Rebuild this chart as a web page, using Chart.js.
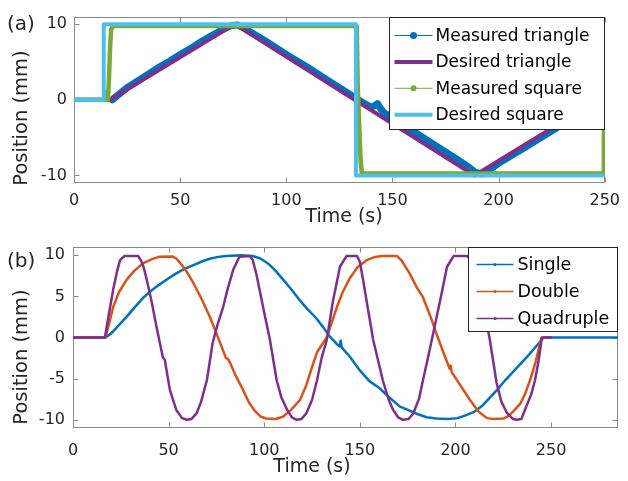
<!DOCTYPE html>
<html>
<head>
<meta charset="utf-8">
<script src="https://cdn.jsdelivr.net/npm/chart.js@4.4.1/dist/chart.umd.min.js"></script>
<style>
  html, body { margin: 0; padding: 0; background: #fff; }
  #wrap { position: relative; width: 628px; height: 481px; }
  #chartA { position: absolute; left: 0; top: 0; }
  #chartB { position: absolute; left: 0; top: 226px; }
</style>
</head>
<body>
<div id="wrap">
  <canvas id="chartA" width="628" height="226"></canvas>
  <canvas id="chartB" width="628" height="255"></canvas>
</div>
<script>
// ---------- panel (a): triangle and square tracking ----------
const xTicksA = [0, 50, 100, 150, 200, 250];
const yTicksA = [-10, 0, 10];

const triMeasT = [18, 25, 30, 35, 40, 45, 50, 55, 60, 65, 70, 74, 77, 80, 90, 100, 110, 120, 130, 135, 140, 141.5, 143, 144.5, 146, 150, 160, 170, 180, 186, 189, 192, 196, 200, 210, 220, 228, 235, 242, 247, 250];
const triMeasY = [0, 1.6, 2.5, 3.4, 4.3, 5.1, 6.0, 6.8, 7.7, 8.5, 9.3, 9.8, 9.9, 9.5, 7.8, 6.0, 4.3, 2.5, 0.7, -0.2, -1.0, -0.8, -0.5, -1.2, -1.7, -2.4, -4.2, -6.0, -7.8, -8.9, -9.6, -9.8, -9.2, -8.4, -6.7, -5.0, -3.6, -2.4, -1.2, -0.3, 0];

const triDesT = [0, 17, 75.7, 188.7, 247, 250];
const triDesY = [0, 0, 10, -10, 0, 0];

const sqMeasT = [0, 14, 14.6, 15.2, 16, 16.5, 17, 17.5, 18.5, 133.2, 133.6, 134.3, 135, 135.6, 249.3, 249.6];
const sqMeasY = [0, 0, 1.0, 0, 0, 3, 7, 9.3, 9.75, 9.75, 2.2, -3, -8, -9.75, -9.75, 0];

const sqDesT = [0, 14, 14, 132.8, 132.8, 250];
const sqDesY = [0, 0, 10, 10, -10, -10];

const legendA = ['Measured triangle', 'Desired triangle', 'Measured square', 'Desired square'];

// ---------- panel (b): single / double / quadruple ----------
const xTicksB = [0, 50, 100, 150, 200, 250];
const yTicksB = [-10, -5, 0, 5, 10];

const singleT = [0, 17, 20, 24, 28, 32, 37, 41, 45, 50, 54, 58, 63, 68, 72, 76, 80, 88, 94, 98, 102, 106, 110, 114, 118, 122, 127, 131, 134, 138, 139.5, 140, 140.5, 145, 150, 155, 160, 165, 171, 176, 180, 185, 190, 196, 201, 205, 210, 214, 218, 222, 226, 230, 234, 238, 241, 244, 246, 285];
const singleY = [0, 0, 0.5, 1.5, 2.5, 3.6, 4.9, 5.7, 6.4, 7.2, 7.8, 8.3, 8.8, 9.3, 9.6, 9.8, 9.9, 10, 9.9, 9.6, 9.0, 8.1, 7.0, 5.9, 4.7, 3.6, 2.4, 1.2, 0.2, -0.8, -1.1, -0.4, -1.2, -2.4, -4.0, -5.3, -6.1, -7.2, -8.4, -8.9, -9.3, -9.7, -9.85, -9.9, -9.8, -9.5, -9.0, -8.3, -7.3, -6.3, -5.2, -4.2, -3.2, -2.2, -1.4, -0.6, 0, 0];

const doubleT = [0, 17, 19, 21, 24, 28, 32, 36.6, 41, 45, 52, 54, 57, 60, 63, 67, 71.6, 75, 80, 81, 82, 85, 89, 92, 95, 98, 101, 106, 110, 114, 118.7, 122, 125, 127.6, 132.7, 135, 138, 141, 145, 149, 153.6, 158, 162, 169.5, 172, 176, 180, 183, 187, 190, 194, 197, 197.5, 198, 202, 207.6, 212, 216.5, 220, 225, 228, 231, 234, 236.5, 239, 242, 245, 250];
const doubleY = [0, 0, 1.8, 3.7, 5.5, 7.0, 8.1, 9.0, 9.5, 9.8, 9.85, 9.6, 8.8, 7.8, 6.6, 4.8, 2.5, 0.5, -2.5, -2.6, -3.0, -4.6, -6.4, -7.9, -8.9, -9.6, -9.85, -9.9, -9.6, -8.8, -7.6, -5.8, -3.6, -1.8, 0, 1.6, 3.7, 5.5, 7.3, 8.6, 9.4, 9.8, 9.9, 9.9, 9.3, 7.8, 6.0, 4.9, 2.5, 0.5, -2.0, -3.8, -3.4, -4.2, -5.6, -7.6, -9.0, -9.8, -9.9, -9.85, -9.5, -8.8, -8.0, -6.8, -5.2, -2.9, 0, 0];

const quadT = [0, 16.7, 18.5, 21, 23, 24.6, 27, 34, 35.5, 37, 38.6, 41, 44, 47, 48, 48.5, 50.7, 54, 57, 59.6, 62, 64.7, 67, 70, 73, 75.5, 78.5, 81, 83.7, 87, 92.6, 94, 96, 99.4, 103, 106.5, 109, 112, 114.5, 117, 119.5, 122, 125, 127.6, 130, 132.7, 136, 139.6, 143, 148.5, 150, 151.7, 154, 157, 162, 165, 167.4, 170, 172.6, 175.5, 178, 181, 183, 185.5, 187.6, 192, 195.6, 199, 206, 208.5, 211, 214.5, 218, 221.5, 224, 227, 230, 232, 234.5, 237, 239.5, 241.6, 243.5, 245, 245.5, 250];
const quadY = [0, 0, 2.5, 5.8, 8.0, 9.4, 9.9, 9.9, 9.4, 8.5, 7.0, 4.5, 0.9, -2.4, -2.7, -3.4, -6.4, -8.8, -9.8, -10, -9.9, -9.2, -7.8, -5.2, -0.7, 1.5, 3.7, 6.0, 8.2, 9.8, 9.9, 9.4, 7.6, 3.7, -0.3, -5.2, -7.3, -8.8, -9.7, -10, -9.9, -9.2, -7.6, -5.2, -2.5, -0.3, 4.5, 8.6, 9.9, 9.9, 9.2, 7.0, 3.8, -0.3, -5.2, -7.5, -8.8, -9.7, -10, -9.9, -9.2, -7.4, -5.2, -2.6, -0.3, 4.5, 8.6, 9.9, 9.9, 9.4, 7.8, 4.0, -0.3, -5.5, -7.8, -9.2, -9.9, -10, -9.9, -8.4, -7.0, -5.2, -2.8, -0.3, 0, 0];

const legendB = ['Single', 'Double', 'Quadruple'];

// colours (MATLAB default order)
const C_BLUE = '#0072BD';
const C_ORANGE = '#D95319';
const C_PURPLE = '#7E2F8E';
const C_GREEN = '#77AC30';
const C_CYAN = '#4DBEEE';

const FONT = 'DejaVu Sans';

function toPoints(ts, ys) {
  return ts.map((t, i) => ({ x: t, y: ys[i] }));
}

function lineSet(label, ts, ys, color, width, order) {
  return {
    label: label,
    data: toPoints(ts, ys),
    borderColor: color,
    backgroundColor: color,
    borderWidth: width,
    pointRadius: 0,
    tension: 0,
    fill: false,
    order: order,
    borderJoinStyle: 'round',
    borderCapStyle: 'round'
  };
}

// box and inward ticks, MATLAB style
const framePlugin = {
  id: 'frame',
  beforeDatasetsDraw(chart) {
    const { ctx, chartArea: a, scales } = chart;
    const L = Math.round(a.left) + 0.5, R = Math.round(a.right) - 0.5;
    const T = Math.round(a.top) + 0.5, B = Math.round(a.bottom) - 0.5;
    ctx.save();
    ctx.strokeStyle = '#8a8a8a';
    ctx.lineWidth = 1;
    ctx.strokeRect(L, T, R - L, B - T);
    ctx.beginPath();
    scales.x.ticks.forEach(t => {
      const px = Math.round(scales.x.getPixelForValue(t.value)) + 0.5;
      ctx.moveTo(px, B); ctx.lineTo(px, B - 5);
      ctx.moveTo(px, T); ctx.lineTo(px, T + 5);
    });
    scales.y.ticks.forEach(t => {
      const py = Math.round(scales.y.getPixelForValue(t.value)) + 0.5;
      ctx.moveTo(L, py); ctx.lineTo(L + 5, py);
      ctx.moveTo(R, py); ctx.lineTo(R - 5, py);
    });
    ctx.stroke();
    ctx.restore();
  }
};

// legend box drawn over the data, like MATLAB's
const boxLegendPlugin = {
  id: 'boxLegend',
  afterDatasetsDraw(chart, args, opts) {
    const { ctx, chartArea: a } = chart;
    const x0 = Math.round(a.right - opts.width) + 0.5;
    const y0 = Math.round(a.top) + 0.5;
    ctx.save();
    ctx.fillStyle = '#fff';
    ctx.fillRect(x0, y0, opts.width - 1, opts.height);
    ctx.strokeStyle = '#262626';
    ctx.lineWidth = 1;
    ctx.strokeRect(x0, y0, opts.width - 1, opts.height);
    ctx.font = opts.fontSize + 'px "' + FONT + '"';
    ctx.textBaseline = 'middle';
    ctx.textAlign = 'left';
    opts.items.forEach((it, i) => {
      const yy = y0 + opts.firstRow + i * opts.rowGap;
      ctx.strokeStyle = it.color;
      ctx.lineWidth = it.width;
      ctx.beginPath();
      ctx.moveTo(x0 + opts.lineFrom, yy);
      ctx.lineTo(x0 + opts.lineTo, yy);
      ctx.stroke();
      if (it.marker) {
        ctx.fillStyle = it.color;
        ctx.beginPath();
        ctx.arc(x0 + (opts.lineFrom + opts.lineTo) / 2, yy, it.marker, 0, Math.PI * 2);
        ctx.fill();
      }
      ctx.fillStyle = '#000';
      ctx.fillText(it.label, x0 + opts.textX, yy + 1);
    });
    ctx.restore();
  }
};

// panel letter and axis titles
const titlesPlugin = {
  id: 'titles',
  afterDraw(chart, args, opts) {
    const ctx = chart.ctx;
    ctx.save();
    ctx.fillStyle = '#262626';
    ctx.textBaseline = 'alphabetic';
    ctx.font = '20px "' + FONT + '"';
    ctx.textAlign = 'left';
    ctx.fillText(opts.panel, 7, opts.panelBase);
    ctx.font = '19px "' + FONT + '"';
    ctx.textAlign = 'center';
    ctx.fillText('Time (s)', opts.xTitleX, opts.xTitleBase);
    ctx.translate(22, opts.yTitleMid);
    ctx.rotate(-Math.PI / 2);
    ctx.textBaseline = 'middle';
    ctx.font = '19.5px "' + FONT + '"';
    ctx.fillText('Position (mm)', 0, 0);
    ctx.restore();
  }
};

function makeChart(id, datasets, cfg) {
  const tickFont = { family: FONT, size: 16 };
  return new Chart(document.getElementById(id), {
    type: 'line',
    data: { datasets: datasets },
    options: {
      responsive: false,
      animation: false,
      events: [],
      layout: { padding: { left: 0, right: cfg.padRight, top: cfg.padTop, bottom: 0 } },
      plugins: {
        legend: { display: false },
        tooltip: { enabled: false },
        boxLegend: cfg.legend,
        titles: cfg.titles
      },
      scales: {
        x: {
          type: 'linear',
          min: cfg.xMin,
          max: cfg.xMax,
          grid: { display: false, drawTicks: false },
          border: { display: false },
          ticks: { font: tickFont, color: '#262626', padding: cfg.xPad, maxRotation: 0, autoSkip: false },
          afterBuildTicks: s => { s.ticks = cfg.xTicks.map(v => ({ value: v })); },
          afterFit: s => { s.height = cfg.xHeight; }
        },
        y: {
          type: 'linear',
          min: -11,
          max: 11,
          grid: { display: false, drawTicks: false },
          border: { display: false },
          ticks: { font: tickFont, color: '#262626', padding: cfg.yPad },
          afterBuildTicks: s => { s.ticks = cfg.yTicks.map(v => ({ value: v })); },
          afterFit: s => { s.width = cfg.yWidth; }
        }
      }
    },
    plugins: [framePlugin, boxLegendPlugin, titlesPlugin]
  });
}

// panel (a) – later series drawn on top, as in MATLAB
makeChart('chartA', [
  lineSet(legendA[0], triMeasT, triMeasY, C_BLUE, 7, 4),
  lineSet(legendA[1], triDesT, triDesY, C_PURPLE, 4, 3),
  lineSet(legendA[2], sqMeasT, sqMeasY, C_GREEN, 4.5, 2),
  lineSet(legendA[3], sqDesT, sqDesY, C_CYAN, 4, 1)
], {
  xMin: 0, xMax: 250, xTicks: xTicksA, yTicks: yTicksA,
  padRight: 16, padTop: 14, xHeight: 43, yWidth: 74, xPad: 8, yPad: 7,
  legend: {
    width: 216, height: 112, firstRow: 18, rowGap: 26.4,
    lineFrom: 5, lineTo: 43, textX: 46, fontSize: 17,
    items: [
      { label: legendA[0], color: C_BLUE, width: 1, marker: 3.5 },
      { label: legendA[1], color: C_PURPLE, width: 4 },
      { label: legendA[2], color: C_GREEN, width: 1, marker: 3 },
      { label: legendA[3], color: C_CYAN, width: 4 }
    ]
  },
  titles: { panel: '(a)', panelBase: 30, xTitleX: 344, xTitleBase: 222, yTitleMid: 118 }
});

// panel (b)
makeChart('chartB', [
  lineSet(legendB[0], singleT, singleY, C_BLUE, 2.5, 3),
  lineSet(legendB[1], doubleT, doubleY, C_ORANGE, 2.5, 2),
  lineSet(legendB[2], quadT, quadY, C_PURPLE, 2.5, 1)
], {
  xMin: 0, xMax: 285, xTicks: xTicksB, yTicks: yTicksB,
  padRight: 10, padTop: 21, xHeight: 53, yWidth: 73, xPad: 13, yPad: 8,
  legend: {
    width: 150, height: 84, firstRow: 17, rowGap: 27,
    lineFrom: 8, lineTo: 45, textX: 49, fontSize: 17.5,
    items: [
      { label: legendB[0], color: C_BLUE, width: 1.5, marker: 1.5 },
      { label: legendB[1], color: C_ORANGE, width: 1.5, marker: 1.5 },
      { label: legendB[2], color: C_PURPLE, width: 1.5, marker: 1.5 }
    ]
  },
  titles: { panel: '(b)', panelBase: 41, xTitleX: 312, xTitleBase: 246, yTitleMid: 131 }
});
</script>
</body>
</html>
